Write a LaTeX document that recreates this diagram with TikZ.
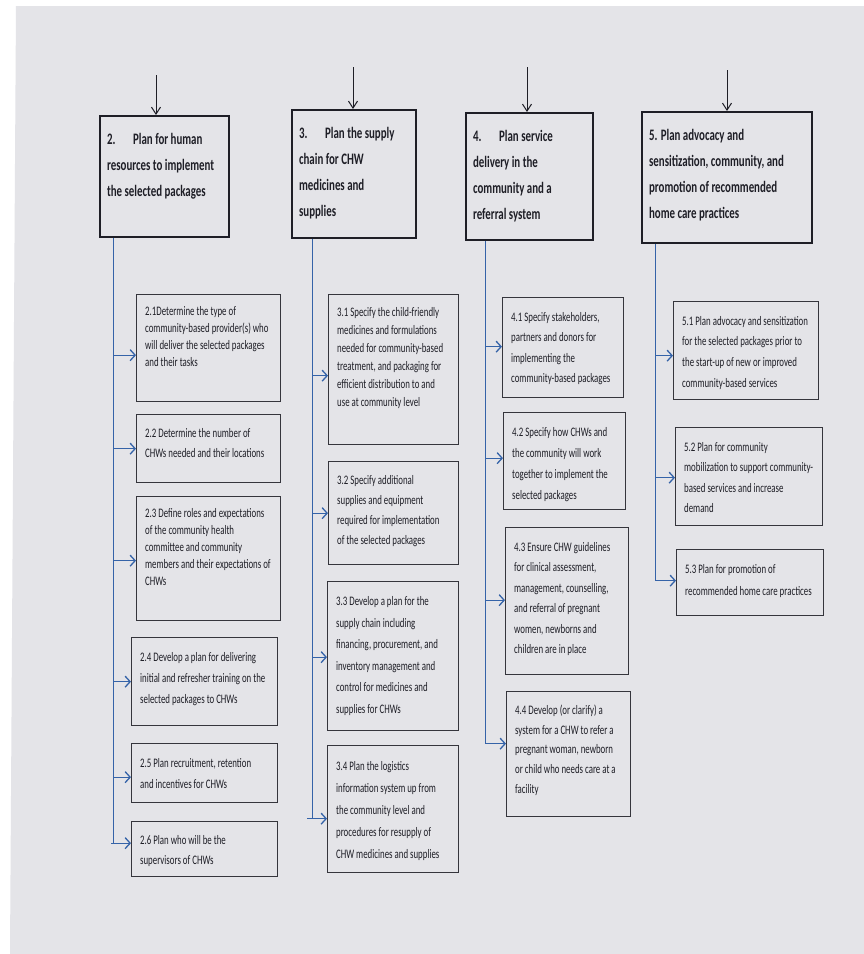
\documentclass[tikz,border=0pt]{standalone}
\usepackage{fontspec}
\setmainfont{Carlito}[FakeStretch=0.68]
\usetikzlibrary{arrows.meta}
\definecolor{page}{HTML}{E4E4E8}
\definecolor{ink}{HTML}{1E1E26}
\definecolor{feedblue}{HTML}{3563A8}
% box text: width, height, lines
\newcommand\cell[3]{\parbox[c][#2pt][t]{#1pt}{\begin{tabular}[t]{@{}l@{}}#3\end{tabular}}}
\tikzset{
  mainbox/.style={draw=ink, line width=2.2pt, anchor=north west, inner xsep=7pt, inner ysep=10pt,
    text=ink, font=\fontsize{16}{26}\selectfont\bfseries},
  subbox/.style={draw=ink!90, line width=1.3pt, anchor=north west, inner xsep=8.5pt, inner ysep=9pt,
    text=ink, font=\fontsize{13}{#1}\selectfont},
  subbox/.default=20,
  feed/.style={feedblue, line width=1pt},
  feedarrow/.style={feed, line width=1.3pt, -{Straight Barb[length=5pt,width=11pt]}},
  inarrow/.style={ink, line width=1pt, -{Straight Barb[length=7pt,width=9pt]}}
}
\begin{document}
\begin{tikzpicture}[x=1pt,y=-1pt]
\useasboundingbox (0,0) rectangle (864,954);
\fill[white] (0,0) rectangle (864,954);
\fill[page] (16,6) -- (864,6) -- (864,954) -- (10,954) -- cycle;

% main steps
\node[mainbox] (m2) at (99,115) {\cell{115}{101}{2.\hspace{1.1em}Plan for human\\resources to implement\\the selected packages}};
\node[mainbox] (m3) at (291,109) {\cell{110}{108}{3.\hspace{1.1em}Plan the supply\\chain for CHW\\medicines and\\supplies}};
\node[mainbox] (m4) at (465,112) {\cell{113}{107}{4.\hspace{1.1em}Plan service\\delivery in the\\community and a\\referral system}};
\node[mainbox] (m5) at (641,111) {\cell{156}{111}{5. Plan advocacy and\\sensitization, community, and\\promotion of recommended\\home care practices}};

\coordinate (in2) at (156,75);
\coordinate (in3) at (353,67);
\coordinate (in4) at (527,67);
\coordinate (in5) at (727,70);
\foreach \m in {2,3,4,5}
  \draw[inarrow] (in\m) -- (in\m |- m\m.north);

% column 2
\node[subbox=17] (s21) at (136,294) {\cell{127}{89}{2.1Determine the type of\\community-based provider(s) who\\will deliver the selected packages\\and their tasks}};
\node[subbox=20] (s22) at (136,414) {\cell{127}{50}{2.2 Determine the number of\\CHWs needed and their locations}};
\node[subbox=17] (s23) at (136,496) {\cell{127}{106}{2.3 Define roles and expectations\\of the community health\\committee and community\\members and their expectations of\\CHWs}};
\node[subbox=21] (s24) at (131,637) {\cell{129}{70}{2.4 Develop a plan for delivering\\initial and refresher training on the\\selected packages to CHWs}};
\node[subbox=21] (s25) at (131,743) {\cell{129}{41}{2.5 Plan recruitment, retention\\and incentives for CHWs}};
\node[subbox=20] (s26) at (131,821) {\cell{129}{37}{2.6 Plan who will be the\\supervisors of CHWs}};

% column 3
\node[subbox=18] (s31) at (328,294) {\cell{113}{132}{3.1 Specify the child-friendly\\medicines and formulations\\needed for community-based\\treatment, and packaging for\\efficient distribution to and\\use at community level}};
\node[subbox=20] (s32) at (328,461) {\cell{113}{85}{3.2 Specify additional\\supplies and equipment\\required for implementation\\of the selected packages}};
\node[subbox=21.5] (s33) at (327,581) {\cell{114}{131}{3.3 Develop a plan for the\\supply chain including\\financing, procurement, and\\inventory management and\\control for medicines and\\supplies for CHWs}};
\node[subbox=22] (s34) at (327,745) {\cell{114}{109}{3.4 Plan the logistics\\information system up from\\the community level and\\procedures for resupply of\\CHW medicines and supplies}};

% column 4
\node[subbox=20.5] (s41) at (502,297) {\cell{104}{82}{4.1 Specify stakeholders,\\partners and donors for\\implementing the\\community-based packages}};
\node[subbox=21] (s42) at (503,412) {\cell{105}{79}{4.2 Specify how CHWs and\\the community will work\\together to implement the\\selected packages}};
\node[subbox=20.5] (s43) at (505,527) {\cell{106}{129}{4.3 Ensure CHW guidelines\\for clinical assessment,\\management, counselling,\\and referral of pregnant\\women, newborns and\\children are in place}};
\node[subbox=19.7] (s44) at (506,691) {\cell{107}{107}{4.4 Develop (or clarify) a\\system for a CHW to refer a\\pregnant woman, newborn\\or child who needs care at a\\facility}};

% column 5
\node[subbox=20.7] (s51) at (673,301) {\cell{128}{80}{5.1 Plan advocacy and sensitization\\for the selected packages prior to\\the start-up of new or improved\\community-based services}};
\node[subbox=20.5] (s52) at (675,427) {\cell{130}{80}{5.2 Plan for community\\mobilization to support community-\\based services and increase\\demand}};
\node[subbox=21.5] (s53) at (676,549) {\cell{130}{48}{5.3 Plan for promotion of\\recommended home care practices}};

% trunks and feeds
\coordinate (t2) at ([xshift=14pt]m2.south west);
\coordinate (t3) at ([xshift=21pt]m3.south west);
\coordinate (t4) at ([xshift=20pt]m4.south west);
\coordinate (t5) at ([xshift=14pt]m5.south west);

\foreach \b/\t/\dy in {s21/t2/-7, s22/t2/0, s23/t2/-2, s24/t2/0, s25/t2/-4,
                       s31/t3/-6, s32/t3/0, s33/t3/-1,
                       s41/t4/1, s42/t4/3, s43/t4/1,
                       s51/t5/-5, s52/t5/-1} {
  \coordinate (a\b) at ([yshift=\dy pt]\b.west);
  \draw[feedarrow] (\t |- a\b) -- (a\b);
}
\foreach \b/\t/\dy in {s26/t2/6, s34/t3/-9.5, s44/t4/10.5, s53/t5/2} {
  \coordinate (a\b) at ([yshift=\dy pt]\b.west);
  \draw[feed] (\t) |- ([xshift=-20pt]a\b);
  \draw[feedarrow] ([xshift=-20pt]a\b) -- (a\b);
}
\end{tikzpicture}
\end{document}
